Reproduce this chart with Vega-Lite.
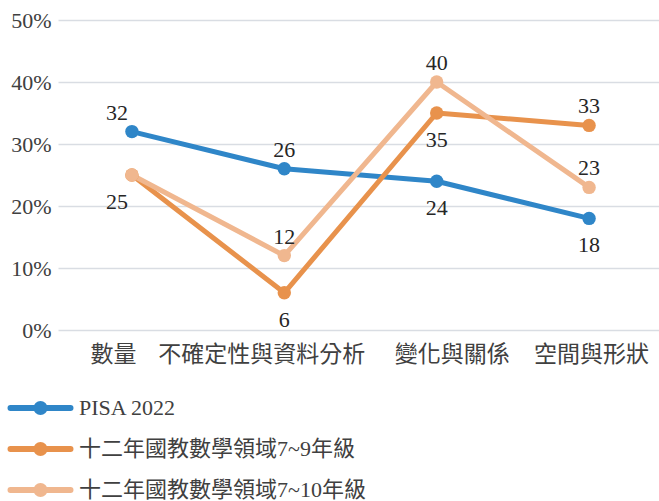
{
  "$schema": "https://vega.github.io/schema/vega-lite/v6.json",
  "width": 605,
  "height": 310,
  "autosize": "none",
  "padding": {"left": 58, "top": 20, "right": 0, "bottom": 171},
  "background": "white",
  "config": {
    "view": {"stroke": null},
    "font": "Times New Roman, Liberation Serif, DejaVu Serif, Noto Sans CJK TC, serif",
    "text": {"font": "Times New Roman, Liberation Serif, DejaVu Serif, Noto Sans CJK TC, serif"},
    "axis": {"labelFont": "Times New Roman, Liberation Serif, DejaVu Serif, Noto Sans CJK TC, serif", "labelColor": "#404040"},
    "legend": {"labelFont": "Times New Roman, Liberation Serif, DejaVu Serif, Noto Sans CJK TC, serif"}
  },
  "data": {
    "values": [
      {"category": "數量", "series": "PISA 2022", "value": 32},
      {"category": "不確定性與資料分析", "series": "PISA 2022", "value": 26},
      {"category": "變化與關係", "series": "PISA 2022", "value": 24},
      {"category": "空間與形狀", "series": "PISA 2022", "value": 18},
      {"category": "數量", "series": "十二年國教數學領域7~9年級", "value": 25},
      {"category": "不確定性與資料分析", "series": "十二年國教數學領域7~9年級", "value": 6},
      {"category": "變化與關係", "series": "十二年國教數學領域7~9年級", "value": 35},
      {"category": "空間與形狀", "series": "十二年國教數學領域7~9年級", "value": 33},
      {"category": "數量", "series": "十二年國教數學領域7~10年級", "value": 25},
      {"category": "不確定性與資料分析", "series": "十二年國教數學領域7~10年級", "value": 12},
      {"category": "變化與關係", "series": "十二年國教數學領域7~10年級", "value": 40},
      {"category": "空間與形狀", "series": "十二年國教數學領域7~10年級", "value": 23}
    ]
  },
  "encoding": {
    "x": {
      "field": "category", "type": "nominal", "sort": null,
      "scale": {"type": "point", "padding": 0.485},
      "axis": {
        "title": null, "domain": false, "ticks": false, "labelAngle": 0, "labelFontSize": 23, "labelPadding": 13, "labelLimit": 0, "labelColor": "#404040",
        "labelOffset": {
          "condition": [
            {"test": "datum.value === '數量'", "value": -19},
            {"test": "datum.value === '不確定性與資料分析'", "value": -23},
            {"test": "datum.value === '變化與關係'", "value": 15}
          ],
          "value": 2
        }
      }
    },
    "y": {
      "field": "value", "type": "quantitative",
      "scale": {"domain": [0, 50], "nice": false},
      "axis": {"title": null, "domain": false, "ticks": false, "values": [0, 10, 20, 30, 40, 50], "labelExpr": "datum.value + '%'", "labelFontSize": 22, "labelPadding": 7, "labelColor": "#404040", "gridColor": "#d9dde3", "gridWidth": 1.5}
    }
  },
  "layer": [
    {
      "mark": {"type": "line", "strokeWidth": 5, "strokeCap": "round", "strokeJoin": "round"},
      "encoding": {
        "color": {
          "field": "series", "type": "nominal",
          "scale": {"domain": ["PISA 2022", "十二年國教數學領域7~9年級", "十二年國教數學領域7~10年級"], "range": ["#2f86c8", "#e8924c", "#f0b78f"]},
          "legend": {
            "title": null, "orient": "none", "direction": "vertical",
            "legendX": -28.5, "legendY": 377, "padding": 0,
            "symbolType": "M-4,0L4,0M-0.53,0A0.53,0.53,0,1,1,0.53,0A0.53,0.53,0,1,1,-0.53,0",
            "symbolSize": 225, "symbolStrokeWidth": 6,
            "labelFontSize": 22, "labelColor": "#404040", "labelOffset": 27.5, "labelLimit": 0,
            "rowPadding": 9,
            "encode": {"symbols": {"update": {"fill": {"scale": "color", "field": "value"}, "stroke": {"scale": "color", "field": "value"}, "strokeCap": {"value": "round"}}}}
          }
        }
      }
    },
    {
      "mark": {"type": "point", "filled": true, "opacity": 1, "size": 180},
      "encoding": {
        "color": {"field": "series", "type": "nominal", "legend": null}
      }
    },
    {
      "transform": [{"filter": "datum.category != '數量' && ((datum.series == 'PISA 2022' && datum.category == '不確定性與資料分析') || (datum.series == '十二年國教數學領域7~9年級' && datum.category == '空間與形狀') || (datum.series == '十二年國教數學領域7~10年級'))"}],
      "mark": {"type": "text", "fontSize": 22, "dy": -12, "baseline": "alphabetic", "color": "#262626"},
      "encoding": {"text": {"field": "value", "type": "quantitative"}}
    },
    {
      "transform": [{"filter": "datum.category == '數量' && datum.series == 'PISA 2022'"}],
      "mark": {"type": "text", "fontSize": 22, "dy": -12, "dx": -15, "baseline": "alphabetic", "color": "#262626"},
      "encoding": {"text": {"field": "value", "type": "quantitative"}}
    },
    {
      "transform": [{"filter": "datum.category != '數量' && ((datum.series == 'PISA 2022' && (datum.category == '變化與關係' || datum.category == '空間與形狀')) || (datum.series == '十二年國教數學領域7~9年級' && datum.category != '空間與形狀'))"}],
      "mark": {"type": "text", "fontSize": 22, "dy": 34, "baseline": "alphabetic", "color": "#262626"},
      "encoding": {"text": {"field": "value", "type": "quantitative"}}
    },
    {
      "transform": [{"filter": "datum.category == '數量' && datum.series == '十二年國教數學領域7~9年級'"}],
      "mark": {"type": "text", "fontSize": 22, "dy": 34, "dx": -15, "baseline": "alphabetic", "color": "#262626"},
      "encoding": {"text": {"field": "value", "type": "quantitative"}}
    }
  ]
}
